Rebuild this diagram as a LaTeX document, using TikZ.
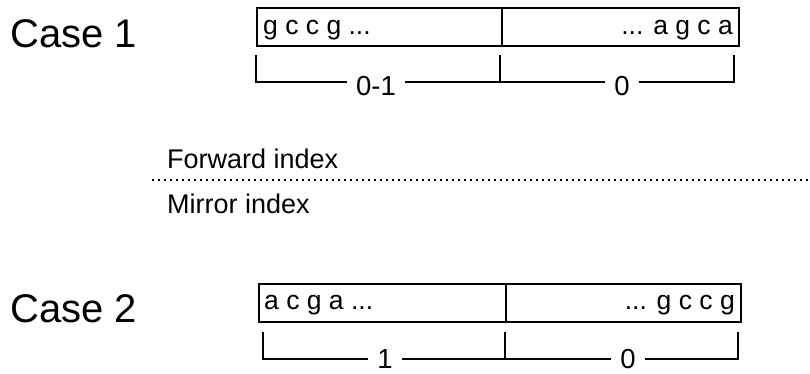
\documentclass[tikz,border=0pt]{standalone}
\usepackage{fontspec}
\setmainfont{Liberation Sans}
\begin{document}
\begin{tikzpicture}[x=1pt,y=-1pt,
  casetxt/.style={font=\fontsize{40}{44}\selectfont, anchor=base west, inner sep=0},
  seqtxt/.style={font=\fontsize{26.5}{30}\selectfont, inner sep=0},
  half/.style={draw, line width=1.8pt, minimum height=38pt, inner sep=0, anchor=north west},
  tick/.style={line width=1.6pt},
  lbl/.style={font=\fontsize{27.5}{30}\selectfont, fill=white, inner xsep=9pt, inner ysep=0pt, anchor=base},
  idx/.style={font=\fontsize{27}{31}\selectfont, anchor=base west, inner sep=0}]
\useasboundingbox (0,0) rectangle (810,373);

% ---------- Case 1 ----------
\node[casetxt] (c1) at (10,47) {Case 1};
\node[half, minimum width=245pt] (b1l) at (256,7) {};
\node[half, minimum width=237pt] (b1r) at (501,7) {};
\node[seqtxt, anchor=base west] (s1l) at (263,34) {g c c g ...};
\node[seqtxt, anchor=base east] (s1r) at (733,34) {... a g c a};

\coordinate (k1a) at (256,55);  \coordinate (k1a') at (256,82);
\coordinate (k1b) at (500,55);  \coordinate (k1b') at (500,82);
\coordinate (k1c) at (734,55);  \coordinate (k1c') at (734,82);
\draw[tick] (k1a) -- (k1a') -- (k1c') -- (k1c);
\draw[tick] (k1b) -- (k1b');
\node[lbl] (l1a) at (376,95) {0-1};
\node[lbl] (l1b) at (622,95) {0};

% ---------- separator ----------
\node[idx] (fwd) at (167,168) {Forward index};
\coordinate (d0) at (152,180);
\coordinate (d1) at (810,180);
\draw[line width=1.3pt, dash pattern=on 2pt off 4pt] (d0) -- (d1);
\node[idx] (mir) at (167,213) {Mirror index};

% ---------- Case 2 ----------
\node[casetxt] (c2) at (10,322) {Case 2};
\node[half, minimum width=247pt] (b2l) at (258,283) {};
\node[half, minimum width=235pt] (b2r) at (505,283) {};
\node[seqtxt, anchor=base west] (s2l) at (264,309) {a c g a ...};
\node[seqtxt, anchor=base east] (s2r) at (735,309) {... g c c g};

\coordinate (k2a) at (263,332);  \coordinate (k2a') at (263,359);
\coordinate (k2b) at (505,332);  \coordinate (k2b') at (505,359);
\coordinate (k2c) at (738,332);  \coordinate (k2c') at (738,359);
\draw[tick] (k2a) -- (k2a') -- (k2c') -- (k2c);
\draw[tick] (k2b) -- (k2b');
\node[lbl] (l2a) at (385,368) {1};
\node[lbl] (l2b) at (628,368) {0};
\end{tikzpicture}
\end{document}
